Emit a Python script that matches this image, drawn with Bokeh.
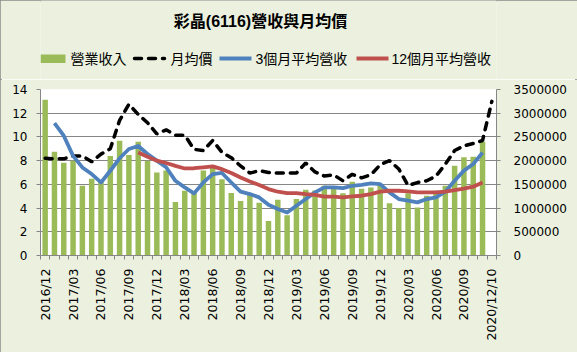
from bokeh.plotting import figure
from bokeh.layouts import column
from bokeh.models import (Range1d, LinearAxis, FixedTicker, BasicTickFormatter, Label,
                          ColumnDataSource)
from bokeh.embed import file_html
from bokeh.resources import INLINE
import numpy as np

months = ["2016/12", "2017/01", "2017/02", "2017/03", "2017/04", "2017/05", "2017/06",
          "2017/07", "2017/08", "2017/09", "2017/10", "2017/11", "2017/12", "2018/01",
          "2018/02", "2018/03", "2018/04", "2018/05", "2018/06", "2018/07", "2018/08",
          "2018/09", "2018/10", "2018/11", "2018/12", "2019/01", "2019/02", "2019/03",
          "2019/04", "2019/05", "2019/06", "2019/07", "2019/08", "2019/09", "2019/10",
          "2019/11", "2019/12", "2020/01", "2020/02", "2020/03", "2020/04", "2020/05",
          "2020/06", "2020/07", "2020/08", "2020/09", "2020/10", "2020/11", "2020/12/10"]

tick_labels = ["2016/12", "2017/03", "2017/06", "2017/09", "2017/12", "2018/03", "2018/06",
               "2018/09", "2018/12", "2019/03", "2019/06", "2019/09", "2019/12", "2020/03",
               "2020/06", "2020/09", "2020/12/10"]

revenue = [3285000, 2190000, 1956000, 2000000, 1470000, 1620000, 1550000, 2100000,
           2420000, 2120000, 2400000, 2000000, 1750000, 1790000, 1130000, 1365000,
           1330000, 1790000, 1870000, 1610000, 1320000, 1150000, 1320000, 1110000,
           730000, 1175000, 850000, 1190000, 1385000, 1370000, 1470000, 1435000,
           1310000, 1555000, 1410000, 1435000, 1505000, 1100000, 1000000, 1310000,
           1010000, 1260000, 1365000, 1470000, 1890000, 2070000, 2080000, 2400000, None]

price = [8.2, 8.15, 8.15, 8.4, 8.4, 7.9, 8.55, 9.0, 11.4, 12.75, 11.9, 11.2, 10.25, 10.6,
         10.15, 10.15, 8.95, 8.85, 9.7, 8.7, 8.25, 7.55, 6.95, 7.15, 7.0, 6.95, 6.95, 6.95,
         7.8, 7.05, 6.7, 6.8, 6.3, 6.85, 6.55, 6.8, 7.65, 8.0, 7.3, 5.9, 6.15, 6.3, 6.7,
         7.7, 8.85, 9.25, 9.45, 9.7, 13.0]

avg3 = [None, 2790000, 2525000, 2100000, 1857000, 1717000, 1540000, 1787000, 2050000,
        2245000, 2310000, 2140000, 2000000, 1860000, 1575000, 1435000, 1310000, 1540000,
        1717000, 1740000, 1540000, 1345000, 1295000, 1225000, 1070000, 980000, 907000,
        1050000, 1190000, 1330000, 1435000, 1435000, 1420000, 1470000, 1490000, 1520000,
        1505000, 1330000, 1190000, 1155000, 1120000, 1190000, 1225000, 1345000, 1575000,
        1790000, 1930000, 2170000, None]

avg12 = [None, None, None, None, None, None, None, None, None, None,
         2170000, 2080000, 2000000, 1950000, 1890000, 1835000, 1840000, 1860000, 1880000,
         1820000, 1740000, 1645000, 1560000, 1485000, 1400000, 1345000, 1315000, 1315000,
         1295000, 1280000, 1240000, 1240000, 1225000, 1245000, 1260000, 1295000, 1345000,
         1365000, 1365000, 1350000, 1330000, 1330000, 1330000, 1345000, 1380000, 1410000,
         1450000, 1540000, None]

title_text = "彩晶(6116)營收與月均價"
series_names = ["營業收入", "月均價", "3個月平均營收", "12個月平均營收"]

def nan(v):
    return [np.nan if a is None else a for a in v]

N = len(months)
xs = list(range(N))
src = ColumnDataSource(dict(x=xs, rev=nan(revenue), price=nan(price),
                            a3=nan(avg3), a12=nan(avg12)))

TXT = "'Liberation Sans', 'Noto Sans CJK TC'"
NUM = "DejaVu Sans"
GRAY = "#868686"
BG = "#EBF1DE"
GREEN, BLUE, RED = "#9BBB59", "#4F81BD", "#C0504D"

# common frame borders so header and chart frames line up (x data == canvas px in header)
BL, BR = 40, 81
FRAME_R = 577 - BR

# ---------------- header (title + legend) ----------------
TOP_H = 79
ph = figure(width=577, height=TOP_H, min_border_left=BL, min_border_right=BR,
            min_border_top=0, min_border_bottom=0, output_backend="svg",
            toolbar_location=None, x_axis_location=None, y_axis_location=None,
            x_range=Range1d(BL, FRAME_R), y_range=Range1d(TOP_H, 0))
ph.grid.visible = False
ph.outline_line_color = None
ph.background_fill_color = BG
ph.border_fill_color = BG

ph.add_layout(Label(x=260, y=21, text=title_text, text_align="center",
                    text_baseline="middle", text_font=TXT, text_font_size="16px",
                    text_font_style="bold", text_color="black"))

LEG_Y = 58
ph.quad(left=[40], right=[65], top=[54], bottom=[62.5], fill_color=GREEN, line_color=None)
ph.line(x=[134, 164], y=[LEG_Y, LEG_Y], line_color="black", line_width=3.5,
        line_dash="7 7", line_cap="round")
ph.line(x=[219, 251], y=[LEG_Y, LEG_Y], line_color=BLUE, line_width=3.8)
ph.line(x=[356, 388], y=[LEG_Y, LEG_Y], line_color=RED, line_width=3.8)
for lx, name in zip([70, 170, 255, 391], series_names):
    ph.add_layout(Label(x=lx, y=LEG_Y + 0.5, text=name, text_align="left",
                        text_baseline="middle", text_font=TXT, text_font_size="14px",
                        text_color="black"))

# ---------------- main chart ----------------
p = figure(width=577, height=352 - TOP_H, min_border_left=BL, min_border_right=BR,
           min_border_top=10, min_border_bottom=97, output_backend="svg",
           toolbar_location=None, x_range=Range1d(-0.5, N - 0.5), y_range=Range1d(0, 14))
p.extra_y_ranges = {"rev": Range1d(0, 3500000)}
p.background_fill_color = "white"
p.border_fill_color = BG
p.outline_line_color = None

tick_pos = [months.index(t) for t in tick_labels]
xa = p.xaxis[0]
xa.ticker = FixedTicker(ticks=tick_pos, minor_ticks=[i - 0.5 for i in range(N + 1)])
xa.major_label_overrides = {i: months[i] for i in tick_pos}
xa.major_label_orientation = np.pi / 2
xa.major_tick_out = 0
xa.major_tick_in = 0
xa.minor_tick_out = 4
xa.minor_tick_in = 0
xa.minor_tick_line_color = GRAY
xa.axis_line_color = GRAY
xa.major_label_standoff = 9
xa.major_label_text_font = NUM
xa.major_label_text_font_size = "12.5px"
xa.major_label_text_color = "black"
p.xgrid.visible = False

ya = p.yaxis[0]
ya.ticker = FixedTicker(ticks=list(range(0, 15, 2)))
ya.minor_tick_line_color = None
ya.major_tick_out = 4
ya.major_tick_in = 0
ya.major_tick_line_color = GRAY
ya.axis_line_color = GRAY
ya.major_label_standoff = 9
ya.major_label_text_font = NUM
ya.major_label_text_font_size = "12px"
ya.major_label_text_color = "black"
p.ygrid.grid_line_color = GRAY
p.ygrid.ticker = FixedTicker(ticks=list(range(0, 15, 2)))

ra = LinearAxis(y_range_name="rev", ticker=FixedTicker(ticks=list(range(0, 3500001, 500000))),
                formatter=BasicTickFormatter(use_scientific=False))
ra.minor_tick_line_color = None
ra.major_tick_out = 4
ra.major_tick_in = 0
ra.major_tick_line_color = GRAY
ra.axis_line_color = GRAY
ra.major_label_standoff = 13
ra.major_label_text_font = NUM
ra.major_label_text_font_size = "12px"
ra.major_label_text_color = "black"
p.add_layout(ra, "right")

p.vbar(x="x", top="rev", width=0.59, source=src, y_range_name="rev",
       fill_color=GREEN, line_color=None)
p.line("x", "price", source=src, line_color="black", line_width=3.5,
       line_dash="7 7", line_cap="round")
p.line("x", "a3", source=src, y_range_name="rev", line_color=BLUE,
       line_width=3.8, line_join="round")
p.line("x", "a12", source=src, y_range_name="rev", line_color=RED,
       line_width=3.8, line_join="round")

lay = column(ph, p, spacing=0)
lay.styles = {"outline": "2px solid #8a8a8a", "outline-offset": "-2px"}

open("out.html", "w").write(file_html(lay, INLINE))
